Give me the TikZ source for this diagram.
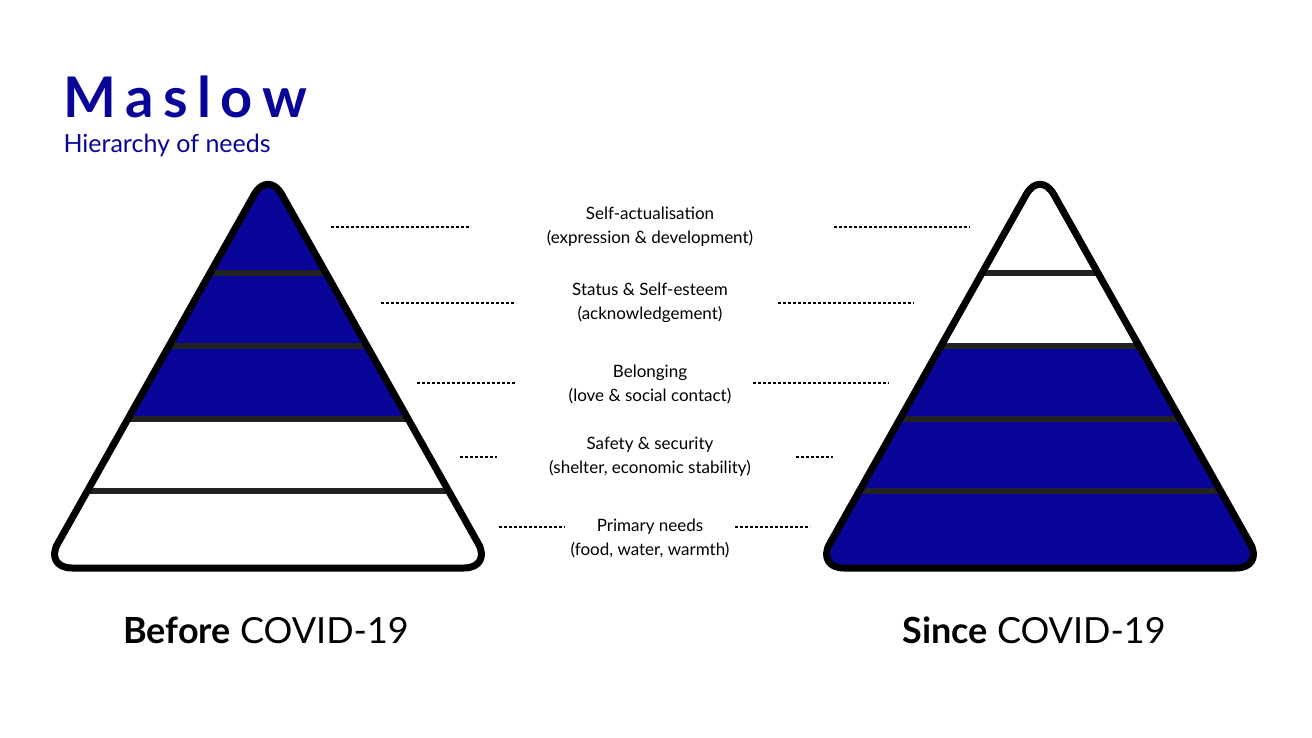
\documentclass[tikz,border=0pt]{standalone}
\usepackage{fontspec}
\setmainfont{Lato}
\definecolor{mblue}{HTML}{0A0599}
\definecolor{sep}{HTML}{222222}
\begin{document}
\begin{tikzpicture}[x=1pt,y=-1pt,
  lbl/.style={align=center,font=\fontsize{17}{24}\selectfont,text=black},
  dl/.style={dashed,dash pattern=on 3pt off 2pt,line width=1.2pt},
  sepl/.style={sep,line width=6pt},
  outl/.style={black,line width=7pt,rounded corners=28pt,line join=round}]
\useasboundingbox (0,0) rectangle (1312,738);
\node[anchor=west,text=mblue,font=\fontsize{56}{60}\selectfont\bfseries] (title) at (60,97) {M\,a\,s\,l\,o\,w};
\node[anchor=west,text=mblue,font=\fontsize{25}{28}\selectfont] (sub) at (60,145) {Hierarchy of needs};
% pyramids
\foreach \cx/\firstblue/\nm in {268/0/L,1040/2/R}{
  \begin{scope}
    \clip[rounded corners=28pt] (\cx,170) -- (\cx+224,568) -- (\cx-224,568) -- cycle;
    \ifnum\firstblue=0
      \fill[mblue] (\cx-250,150) rectangle (\cx+250,419);
    \else
      \fill[mblue] (\cx-250,346) rectangle (\cx+250,580);
    \fi
    \foreach \y in {273,346,419,491} \draw[sepl] (\cx-250,\y) -- (\cx+250,\y);
  \end{scope}
  \draw[outl] (\cx,170) -- (\cx+224,568) -- (\cx-224,568) -- cycle;
}
\node[font=\fontsize{36}{40}\selectfont] (before) at (266,630) {\textbf{Before} COVID-19};
\node[font=\fontsize{36}{40}\selectfont] (since) at (1034,630) {\textbf{Since} COVID-19};
% labels
\node[lbl] (t1) at (650,227) {Self-actualisation\\(expression \& development)};
\node[lbl] (t2) at (650,303) {Status \& Self-esteem\\(acknowledgement)};
\node[lbl] (t3) at (650,384) {Belonging\\(love \& social contact)};
\node[lbl] (t4) at (650,457) {Safety \& security\\(shelter, economic stability)};
\node[lbl] (t5) at (650,538) {Primary needs\\(food, water, warmth)};
\foreach \a/\b/\c/\d/\y in {331/471/834/970/227,381/516/778/914/303,417/516/753/889/383,460/497/796/833/457,499/565/735/810/527}{
  \coordinate (a) at (\a,\y); \coordinate (b) at (\b,\y);
  \coordinate (c) at (\c,\y); \coordinate (d) at (\d,\y);
  \draw[dl] (a) -- (b); \draw[dl] (c) -- (d);
}
\end{tikzpicture}
\end{document}
